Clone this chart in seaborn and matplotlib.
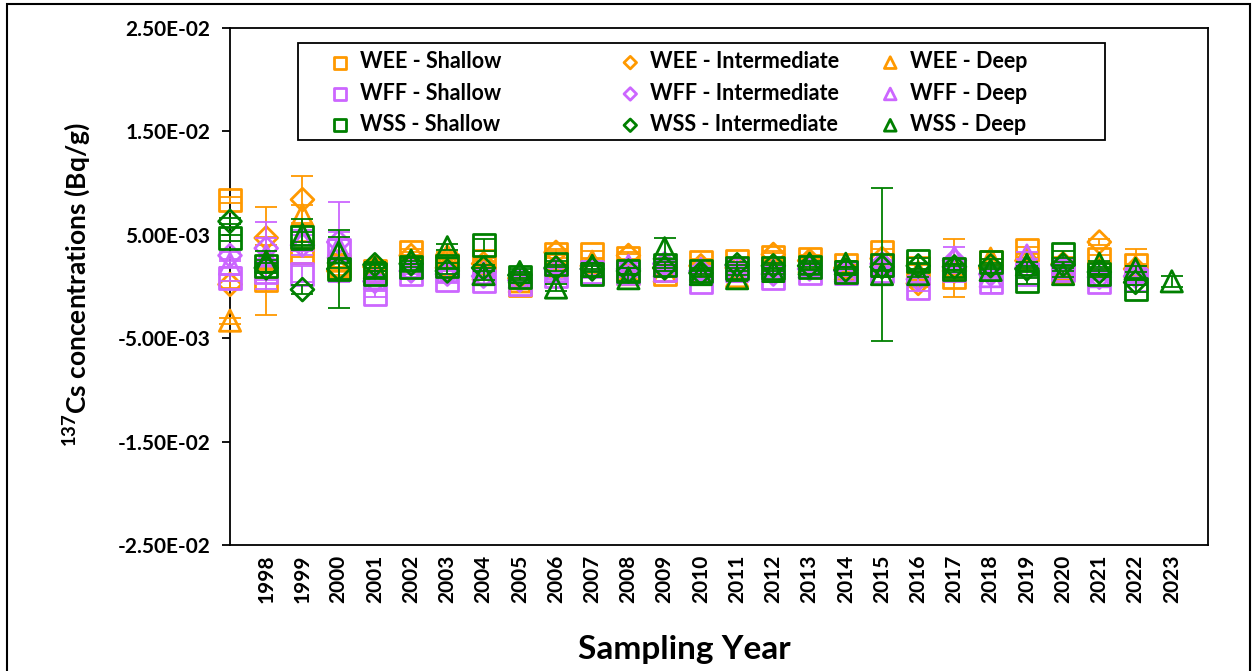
import numpy as np
import pandas as pd
import seaborn as sns
import matplotlib.pyplot as plt
from matplotlib.ticker import FormatStrFormatter
from matplotlib.patches import Rectangle

nan = np.nan

# --- data (Bq/g) ---
years = ['', '1998', '1999', '2000', '2001', '2002', '2003', '2004', '2005', '2006',
         '2007', '2008', '2009', '2010', '2011', '2012', '2013', '2014', '2015',
         '2016', '2017', '2018', '2019', '2020', '2021', '2022', '2023']

wee_shallow = [0.0084, 0.0006, 0.0033, 0.0020, 0.0015, 0.0033, 0.0021, 0.0025, 0.0001, 0.0031,
               0.0031, 0.0028, 0.0012, 0.0024, 0.0025, 0.0029, 0.0027, 0.0021, 0.0033,
               0.0018, 0.0009, 0.0024, 0.0035, 0.0018, 0.0027, 0.0021, nan]
wee_inter = [0.0002, 0.0047, 0.0084, 0.0015, 0.0019, 0.0030, 0.0018, 0.0022, 0.0008, 0.0033,
             0.0020, 0.0030, 0.0018, 0.0020, 0.0018, 0.0031, 0.0025, 0.0018, 0.0027,
             0.0003, 0.0015, 0.0018, 0.0025, 0.0022, 0.0043, 0.0017, nan]
wee_deep = [-0.0033, 0.0028, 0.0069, 0.0025, 0.0012, 0.0025, 0.0030, 0.0017, 0.0005, 0.0020,
            0.0024, 0.0012, 0.0015, 0.0016, 0.0010, 0.0022, 0.0024, 0.0017, 0.0022,
            0.0014, 0.0018, 0.0027, 0.0028, 0.0014, 0.0020, 0.0019, nan]
wff_shallow = [0.0008, 0.0014, 0.0012, 0.0035, -0.0007, 0.0012, 0.0006, 0.0005, 0.0002, 0.0010,
               0.0014, 0.0013, 0.0016, 0.0004, 0.0017, 0.0008, 0.0013, 0.0013, 0.0015,
               -0.0001, 0.0016, 0.0004, 0.0012, 0.0016, 0.0004, 0.0006, nan]
wff_inter = [0.0030, 0.0037, 0.0040, 0.0043, 0.0005, 0.0015, 0.0012, 0.0010, 0.0006, 0.0017,
             0.0017, 0.0017, 0.0022, 0.0015, 0.0020, 0.0012, 0.0017, 0.0015, 0.0022,
             0.0007, 0.0025, 0.0012, 0.0018, 0.0020, 0.0009, 0.0010, nan]
wff_deep = [0.0022, 0.0030, 0.0045, 0.0038, 0.0008, 0.0018, 0.0015, 0.0013, 0.0009, 0.0015,
            0.0019, 0.0020, 0.0020, 0.0017, 0.0015, 0.0016, 0.0019, 0.0015, 0.0020,
            0.0012, 0.0028, 0.0010, 0.0030, 0.0019, 0.0010, 0.0015, nan]
wss_shallow = [0.0047, 0.0020, 0.0048, 0.0017, 0.0012, 0.0019, 0.0020, 0.0040, 0.0009, 0.0022,
               0.0012, 0.0015, 0.0021, 0.0015, 0.0018, 0.0018, 0.0019, 0.0014, 0.0021,
               0.0025, 0.0017, 0.0024, 0.0005, 0.0031, 0.0012, -0.0002, nan]
wss_inter = [0.0063, 0.0018, -0.0003, 0.0017, 0.0021, 0.0022, 0.0015, 0.0018, 0.0011, 0.0018,
             0.0017, 0.0015, 0.0018, 0.0013, 0.0021, 0.0020, 0.0020, 0.0016, 0.0019,
             0.0020, 0.0019, 0.0020, 0.0017, 0.0021, 0.0014, 0.0004, nan]
wss_deep = [nan, 0.0024, 0.0050, 0.0033, 0.0018, 0.0025, 0.0038, 0.0012, 0.0014, -0.0001,
            0.0020, 0.0008, 0.0037, 0.0012, 0.0008, 0.0015, 0.0022, 0.0022, 0.0012,
            0.0012, 0.0019, 0.0016, 0.0021, 0.0012, 0.0022, 0.0017, 0.0005]

# error bars (+/-)
wee_shallow_err = [0.0003, 0.0034, 0.0004, 0.0004, 0.0003, 0.0003, 0.0003, 0.0003, 0.0003, 0.0003,
                   0.0003, 0.0003, 0.0003, 0.0003, 0.0003, 0.0003, 0.0003, 0.0003, 0.0003,
                   0.0003, 0.0003, 0.0003, 0.0003, 0.0003, 0.0003, 0.0015, 0.0]
wee_inter_err = [0.0003, 0.0030, 0.0023, 0.0004, 0.0003, 0.0003, 0.0003, 0.0003, 0.0003, 0.0003,
                 0.0003, 0.0003, 0.0003, 0.0003, 0.0003, 0.0003, 0.0003, 0.0003, 0.0003,
                 0.0003, 0.0003, 0.0003, 0.0003, 0.0003, 0.0003, 0.0003, 0.0]
wee_deep_err = [0.0003, 0.0020, 0.0010, 0.0006, 0.0003, 0.0003, 0.0003, 0.0003, 0.0003, 0.0003,
                0.0003, 0.0003, 0.0003, 0.0003, 0.0003, 0.0003, 0.0003, 0.0003, 0.0003,
                0.0003, 0.0028, 0.0006, 0.0003, 0.0003, 0.0003, 0.0003, 0.0]
wff_shallow_err = [0.0003, 0.0008, 0.0008, 0.0010, 0.0003, 0.0003, 0.0003, 0.0003, 0.0003, 0.0003,
                   0.0003, 0.0003, 0.0003, 0.0003, 0.0003, 0.0003, 0.0003, 0.0003, 0.0003,
                   0.0003, 0.0003, 0.0010, 0.0003, 0.0003, 0.0003, 0.0003, 0.0]
wff_inter_err = [0.0003, 0.0010, 0.0010, 0.0039, 0.0003, 0.0003, 0.0003, 0.0003, 0.0003, 0.0003,
                 0.0003, 0.0003, 0.0003, 0.0003, 0.0003, 0.0003, 0.0003, 0.0003, 0.0003,
                 0.0003, 0.0003, 0.0003, 0.0003, 0.0003, 0.0003, 0.0003, 0.0]
wff_deep_err = [0.0003, 0.0032, 0.0010, 0.0015, 0.0003, 0.0003, 0.0003, 0.0003, 0.0003, 0.0003,
                0.0003, 0.0003, 0.0003, 0.0003, 0.0003, 0.0003, 0.0003, 0.0003, 0.0003,
                0.0003, 0.0010, 0.0003, 0.0003, 0.0003, 0.0003, 0.0003, 0.0]
wss_shallow_err = [0.0003, 0.0006, 0.0005, 0.0038, 0.0003, 0.0003, 0.0003, 0.0006, 0.0003, 0.0003,
                   0.0003, 0.0003, 0.0003, 0.0003, 0.0003, 0.0003, 0.0003, 0.0003, 0.0074,
                   0.0003, 0.0003, 0.0003, 0.0003, 0.0003, 0.0003, 0.0003, 0.0]
wss_inter_err = [0.0003, 0.0005, 0.0004, 0.0010, 0.0003, 0.0003, 0.0003, 0.0003, 0.0003, 0.0003,
                 0.0003, 0.0003, 0.0003, 0.0003, 0.0003, 0.0003, 0.0003, 0.0003, 0.0003,
                 0.0003, 0.0003, 0.0003, 0.0003, 0.0003, 0.0003, 0.0003, 0.0]
wss_deep_err = [0.0, 0.0010, 0.0015, 0.0015, 0.0003, 0.0003, 0.0003, 0.0006, 0.0003, 0.0003,
                0.0003, 0.0003, 0.0010, 0.0003, 0.0003, 0.0003, 0.0003, 0.0003, 0.0003,
                0.0003, 0.0003, 0.0003, 0.0003, 0.0003, 0.0003, 0.0003, 0.0005]

ORANGE, PURPLE, GREEN = '#FF9900', '#CC66FF', '#008000'

series = [
    ('WEE - Shallow', wee_shallow, wee_shallow_err, ORANGE, 's', 250),
    ('WEE - Intermediate', wee_inter, wee_inter_err, ORANGE, 'D', 135),
    ('WEE - Deep', wee_deep, wee_deep_err, ORANGE, '^', 235),
    ('WFF - Shallow', wff_shallow, wff_shallow_err, PURPLE, 's', 250),
    ('WFF - Intermediate', wff_inter, wff_inter_err, PURPLE, 'D', 135),
    ('WFF - Deep', wff_deep, wff_deep_err, PURPLE, '^', 235),
    ('WSS - Shallow', wss_shallow, wss_shallow_err, GREEN, 's', 250),
    ('WSS - Intermediate', wss_inter, wss_inter_err, GREEN, 'D', 135),
    ('WSS - Deep', wss_deep, wss_deep_err, GREEN, '^', 235),
]

# --- style ---
sns.set_theme(style="ticks")
plt.rcParams['font.family'] = ['Lato', 'DejaVu Sans']
plt.rcParams['font.weight'] = 'bold'
plt.rcParams['text.color'] = 'black'
plt.rcParams['xtick.color'] = 'black'
plt.rcParams['ytick.color'] = 'black'
plt.rcParams['mathtext.fontset'] = 'custom'
plt.rcParams['mathtext.rm'] = 'Lato:bold'
plt.rcParams['mathtext.it'] = 'Lato:bold'
plt.rcParams['mathtext.bf'] = 'Lato:bold'

fig = plt.figure(figsize=(12.55, 6.71), dpi=100)
ax = fig.add_axes([230 / 1255, 1 - 545 / 671, (1208 - 230) / 1255, (545 - 28) / 671])

x = np.arange(len(years))
for i, (name, vals, errs, col, mk, s) in enumerate(series):
    z = 3 + i
    ax.errorbar(x, vals, yerr=errs, fmt='none', ecolor=col, elinewidth=1.3,
                capsize=8, capthick=1.3, zorder=z, clip_on=False)
    df = pd.DataFrame({'pos': x, 'val': vals}).dropna()
    sns.scatterplot(data=df, x='pos', y='val', marker=mk, s=s, color=col,
                    facecolor='none', edgecolor=col, linewidth=2.0,
                    label=name, ax=ax, zorder=z + 0.5, legend=False, clip_on=False)

# --- axes ---
ax.set_xlim(0, 27)
ax.set_ylim(-0.025, 0.025)
ax.set_yticks([-0.025, -0.015, -0.005, 0.005, 0.015, 0.025])
ax.yaxis.set_major_formatter(FormatStrFormatter('%.2E'))
ax.set_xticks(x)
ax.set_xticklabels(years, rotation=90)
ax.set_xticks(x[::2], minor=True)
ax.tick_params(axis='x', which='major', length=0, pad=7, labelsize=15)
ax.tick_params(axis='x', which='minor', length=6, width=1.3, direction='out')
ax.tick_params(axis='y', length=6, width=1.3, direction='out', labelsize=15, pad=8)
for lab in ax.get_xticklabels() + ax.get_yticklabels():
    lab.set_fontweight('bold')
for sp in ax.spines.values():
    sp.set_visible(True)
    sp.set_color('black')
    sp.set_linewidth(1.3)
ax.set_xlabel('')
ax.set_ylabel('')

fig.text(684 / 1255, 1 - 650 / 671, 'Sampling Year', ha='center', va='center',
         fontsize=24, fontweight='bold')
fig.text(77 / 1255, 1 - 285 / 671, '$^{137}$Cs concentrations (Bq/g)', rotation=90,
         ha='center', va='center', fontsize=19, fontweight='bold')

# --- legend: three columns placed like the original, inside one framed box ---
handles, labels = ax.get_legend_handles_labels()
box = Rectangle((0.0695, 0.783), 0.8252, 0.188, transform=ax.transAxes,
                facecolor='white', edgecolor='black', linewidth=1.3,
                zorder=19, clip_on=False)
ax.add_patch(box)
col_x = [0.1017, 0.3983, 0.6641]
for c in range(3):
    idx = [c, c + 3, c + 6]
    leg = ax.legend([handles[i] for i in idx], [labels[i] for i in idx],
                    loc='upper left', bbox_to_anchor=(col_x[c], 0.955),
                    frameon=False, fontsize=15.5, markerscale=0.55,
                    handlelength=1.0, handletextpad=0.4, borderpad=0,
                    borderaxespad=0, labelspacing=0.48)
    leg.set_zorder(20)
    if c < 2:
        ax.add_artist(leg)

# outer frame of the picture
fig.patches.append(Rectangle((7 / 1255, -0.05), 1243 / 1255, 1.05 - 4 / 671,
                             transform=fig.transFigure, fill=False,
                             edgecolor='black', linewidth=1.5))

fig.savefig('out.png', dpi=100)
